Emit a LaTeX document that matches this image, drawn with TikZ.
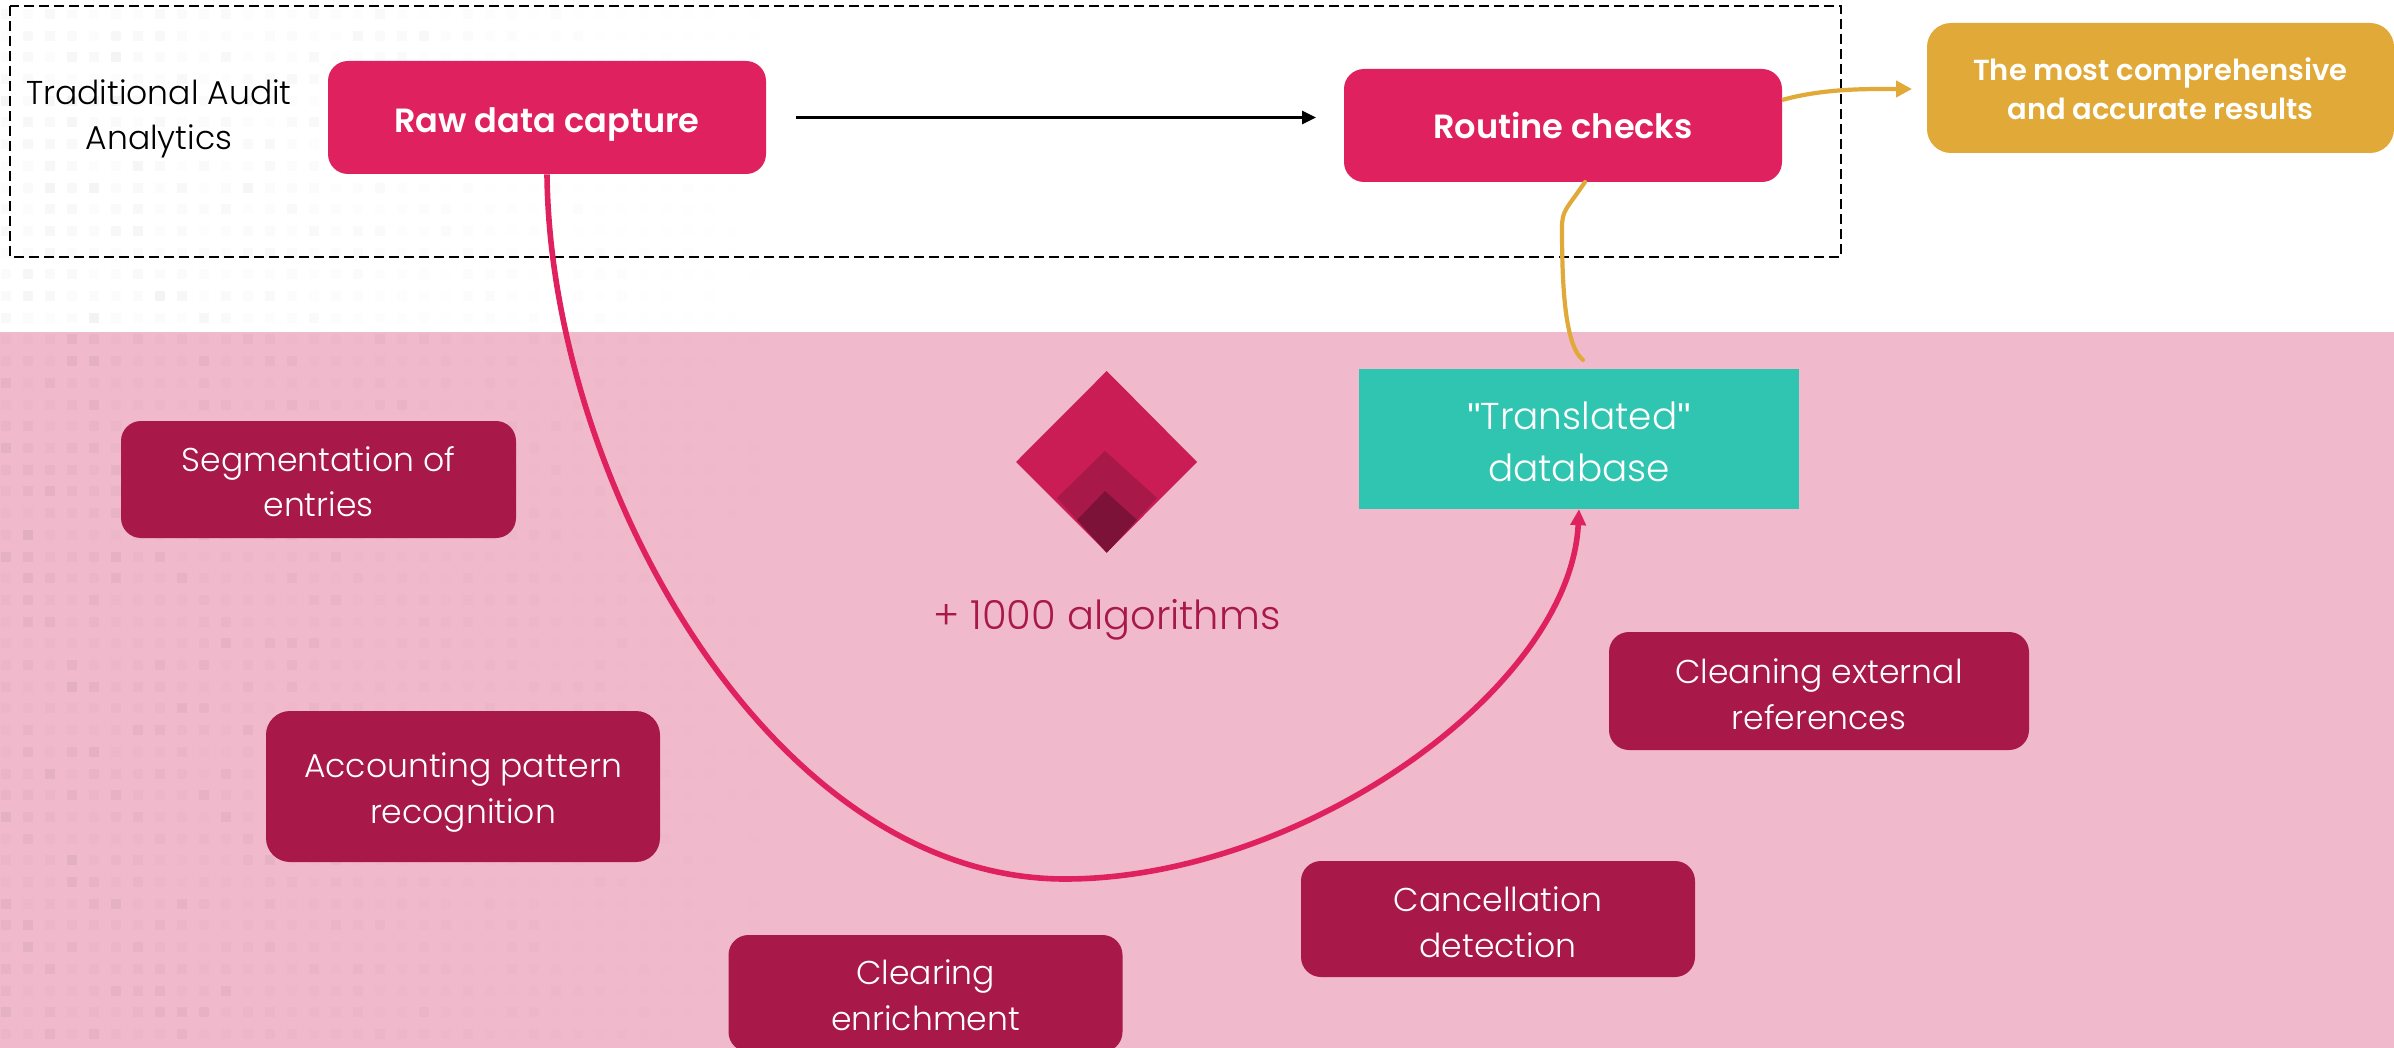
\documentclass[tikz,border=0pt]{standalone}
\usepackage{fontspec}
\defaultfontfeatures{}
\setmainfont{Poppins}[UprightFont=* Light,BoldFont=* SemiBold]
\newfontfamily\quotefont{Liberation Sans}
\usetikzlibrary{arrows.meta}
\definecolor{bandpink}{HTML}{F0BACC}
\definecolor{hotpink}{HTML}{E0215F}
\definecolor{wine}{HTML}{A81848}
\definecolor{goldbox}{HTML}{E1A938}
\definecolor{tealbox}{HTML}{30C5B0}
\definecolor{gemtop}{HTML}{CB1D55}
\definecolor{gemdark}{HTML}{7D1238}
\newcommand\lowered[2]{\raisebox{-#1}[0pt][0pt]{\begin{tabular}{@{}c@{}}#2\end{tabular}}}
\tikzset{
  px/.style={x=0.5pt,y=-0.5pt},
  boxbase/.style={inner sep=0pt,align=center,text=white},
  textdrop/.style={execute at begin node={\rule{0pt}{#1}}},
  hotbox/.style={boxbase,fill=hotpink,rounded corners=10pt,font=\fontsize{16.8}{22}\selectfont\bfseries},
  winebox/.style={boxbase,fill=wine,rounded corners=10pt,font=\fontsize{16.5}{22.7}\selectfont},
  goldnode/.style={boxbase,fill=goldbox,rounded corners=12pt,font=\fontsize{14.5}{19.5}\selectfont\bfseries},
  tealnode/.style={boxbase,fill=tealbox,font=\fontsize{18.7}{26}\selectfont},
  labeltext/.style={inner sep=0pt,align=center,font=\fontsize{16.5}{22.5}\selectfont},
  hotline/.style={draw=hotpink,line width=2.8pt,-{Triangle[length=8pt,width=7.5pt]}},
  goldline/.style={draw=goldbox,line width=2.1pt},
  dashbox/.style={draw=black,line width=1.45pt,dash pattern=on 5pt off 2.5pt},
}
\begin{document}
\begin{tikzpicture}[px]
\useasboundingbox (0,0) rectangle (2394,1048);
\clip (0,0) rectangle (2394,1048);
\fill[white] (0,0) rectangle (2394,1048);
\fill[bandpink] (0,332) rectangle (2394,1048);
% faint dot texture
\pgfmathsetseed{4242}
\foreach \r in {0,...,47}{
  \foreach \c in {0,...,36}{
    \pgfmathsetmacro{\xx}{6+22*\c}
    \pgfmathsetmacro{\yy}{14+21.7*\r}
    \pgfmathsetmacro{\op}{(0.012+0.05*rnd*rnd)*max(0,1-\xx/800)}
    \fill[black,opacity=\op] (\xx-5,\yy-5) rectangle (\xx+5,\yy+5);
  }
}
\draw[dashbox] (10,6) rectangle (1841,257);
% boxes
\node[hotbox,textdrop=19pt,minimum width=219pt,minimum height=56.5pt] (raw) at (547,117.5) {Raw data capture};
\node[hotbox,minimum width=219pt,minimum height=56.5pt] (routine) at (1563,125.5) {Routine checks};
\node[goldnode,minimum width=233.5pt,minimum height=65pt] (gold) at (2160.5,88) {\lowered{5.6pt}{The most comprehensive\\and accurate results}};
\node[tealnode,minimum width=220pt,minimum height=70pt] (teal) at (1579,438.8) {\lowered{7.5pt}{{\quotefont"}Translated{\quotefont"}\\database}};
\node[winebox,minimum width=197.5pt,minimum height=58.5pt] (seg) at (318.5,479.5) {\lowered{7.1pt}{Segmentation of\\entries}};
\node[winebox,minimum width=197pt,minimum height=75.5pt,rounded corners=12pt] (acc) at (463,786.5) {\lowered{6.7pt}{Accounting pattern\\recognition}};
\node[winebox,minimum width=197pt,minimum height=58.5pt] (clr) at (925.5,993.5) {\lowered{6.7pt}{Clearing\\enrichment}};
\node[winebox,minimum width=197pt,minimum height=58pt] (can) at (1498,919) {\lowered{7.5pt}{Cancellation\\detection}};
\node[winebox,minimum width=210pt,minimum height=59pt] (ext) at (1819,691) {\lowered{7.5pt}{Cleaning external\\references}};
\node[labeltext] (trad) at (159,118.5) {Traditional Audit\\Analytics};
\node[labeltext,text=wine,font=\fontsize{20}{24}\selectfont] (algo) at (1107,620) {+ 1000 algorithms};
% gem
\fill[gemtop] (1106.7,371) -- (1197,462) -- (1106.7,552.7) -- (1016,462) -- cycle;
\fill[wine] (1105,451) -- (1157,498) -- (1106.7,552.7) -- (1057,498) -- cycle;
\fill[gemdark] (1105,491) -- (1137,520) -- (1106.7,552.7) -- (1077,520) -- cycle;
% connectors
\coordinate (blackstart) at (796,117.5);
\coordinate (blackend) at (1316,117.5);
\draw[black,line width=1.5pt,-{Triangle[length=7pt,width=6.5pt]}] (blackstart) -- (blackend);
\coordinate (curvelow) at (1065,879);
\draw[draw=hotpink,line width=2.8pt] (raw.south) .. controls (550,480) and (770,879) .. (curvelow);
\draw[hotline] (curvelow) .. controls (1300,879) and (1570,690) .. (teal.south);
\coordinate (goldfrom) at (1782,100);
\coordinate (goldto) at (1912,89);
\draw[goldline,-{Triangle[length=8pt,width=8pt]}] (goldfrom) .. controls (1825,88) and (1870,89) .. (goldto);
\coordinate (feedfrom) at (1585,182);
\coordinate (feedmid) at (1562,228);
\coordinate (feedend) at (1583,360);
\draw[goldline,line cap=round] (feedfrom) .. controls (1566,210) and (1562,210) .. (feedmid) .. controls (1562,280) and (1564,345) .. (feedend);
\end{tikzpicture}
\end{document}
